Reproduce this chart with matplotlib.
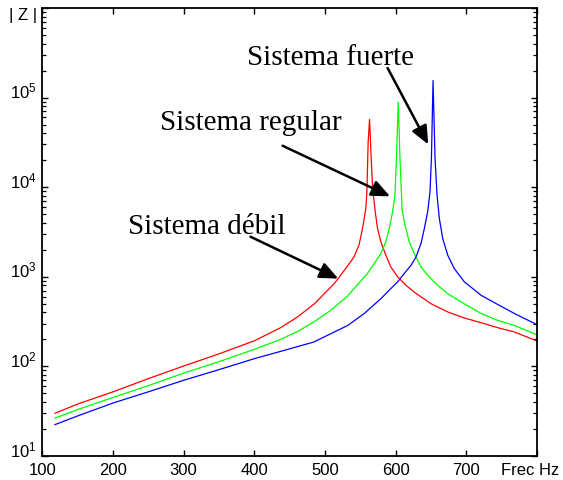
import matplotlib
matplotlib.use('Agg')
import matplotlib.pyplot as plt
from matplotlib.ticker import FixedLocator, FixedFormatter, NullFormatter
from matplotlib.transforms import ScaledTranslation

plt.rcParams['font.family'] = 'Liberation Sans'
plt.rcParams['mathtext.fontset'] = 'custom'
plt.rcParams['mathtext.rm'] = 'Liberation Sans'

# |Z| vs frequency for the three system strengths
f_debil = [118, 150, 200, 250, 300, 350, 400,
           437, 461, 485, 499, 513, 522, 532, 541, 548, 553, 557.7, 559.2, 561, 563,
           565.3, 567.2, 571, 574.3, 579, 586, 593, 602.7, 614.5, 626, 650, 673.6, 697,
           721, 744.5, 768, 800]
z_debil = [30, 38, 52, 73, 101, 138, 193,
           270, 356, 500, 649, 840, 1040, 1325, 1670, 2250, 3460, 5790, 8900, 32000, 57000,
           21000, 10000, 5320, 3460, 2450, 1740, 1290, 1000, 804, 676, 500, 405, 347,
           307, 270, 242, 192]

f_regular = [118, 150, 200, 250, 300, 350, 400,
             437, 461, 484, 508, 532, 546, 560, 569.6, 579, 586, 590.8, 595.6, 598.9, 601, 603.6,
             606, 609, 612, 619.2, 626.2, 635.7, 645.2, 659.4, 673.6, 697, 721, 744.5, 768, 800]
z_regular = [26.5, 33, 45, 61, 84, 113, 155,
             200, 245, 313, 422, 611, 818, 1087, 1405, 1820, 2450, 3460, 5320, 8130, 21000, 89000,
             21000, 5760, 4110, 2450, 1820, 1290, 1040, 804, 647, 500, 389, 326, 286, 225]

f_fuerte = [118, 150, 200, 250, 300, 350, 400,
            437, 484, 532, 555, 579, 593, 602.7, 612, 621.6, 628.7, 635.7, 640.5, 645.2, 648.5,
            650.5, 652.8,
            655.6, 658.5, 661.7, 666.5, 673.6, 683, 697, 721, 744.5, 768, 800]
z_fuerte = [22.4, 28, 39, 52, 70, 92, 122,
            147, 187, 286, 387, 570, 738, 877, 1087, 1343, 1667, 2350, 3460, 5320, 8900,
            21000, 155000,
            21000, 8100, 4480, 2670, 1740, 1230, 880, 620, 490, 389, 292]

xticks = [100, 200, 300, 400, 500, 600, 700, 800]
xlabels = ['100', '200', '300', '400', '500', '600', '700', 'Frec Hz']
yticks = [1e1, 1e2, 1e3, 1e4, 1e5, 1e6]
ylabels = [r'$\mathregular{10^{1}}$', r'$\mathregular{10^{2}}$', r'$\mathregular{10^{3}}$',
           r'$\mathregular{10^{4}}$', r'$\mathregular{10^{5}}$', '| Z |']

fig = plt.figure(figsize=(5.63, 4.81), dpi=100)
ax = fig.add_axes([0.0751, 0.0499, 0.8789, 0.9314])

ax.plot(f_debil, z_debil, color='red', lw=0.9)
ax.plot(f_regular, z_regular, color=(0, 1, 0), lw=0.9)
ax.plot(f_fuerte, z_fuerte, color='blue', lw=0.9)

ax.set_yscale('log')
ax.set_xlim(100, 800)
ax.set_ylim(1e1, 1e6)
ax.xaxis.set_major_locator(FixedLocator(xticks))
ax.xaxis.set_major_formatter(FixedFormatter(xlabels))
ax.yaxis.set_major_locator(FixedLocator(yticks))
ax.yaxis.set_major_formatter(FixedFormatter(ylabels))
minor = [m * 10.0 ** e for e in range(1, 6) for m in range(2, 10)]
ax.yaxis.set_minor_locator(FixedLocator(minor))
ax.yaxis.set_minor_formatter(NullFormatter())
ax.tick_params(which='both', direction='in', top=True, right=True, labelsize=12)
ax.tick_params(which='major', length=4.5, width=1, pad=4)
ax.yaxis.set_tick_params(which='minor', length=3, width=0.9, left=True, right=True)
for s in ax.spines.values():
    s.set_linewidth(1.3)

fig.canvas.draw()
# decade labels sit on their tick, the top one is the axis name
ylab = ax.yaxis.get_majorticklabels()
for lab in ylab[:-1]:
    lab.set_verticalalignment('baseline')
ylab[-1].set_transform(ylab[-1].get_transform() + ScaledTranslation(0, -0.05, fig.dpi_scale_trans))
xlab = ax.xaxis.get_majorticklabels()
xlab[-1].set_transform(xlab[-1].get_transform() + ScaledTranslation(-0.07, 0, fig.dpi_scale_trans))

serif = dict(family='Liberation Serif', fontsize=21)
arrow = dict(arrowstyle='-|>,head_length=0.8,head_width=0.35', color='black',
             lw=1.8, mutation_scale=14, shrinkA=0, shrinkB=0)

ax.text(390, 2.37e5, 'Sistema fuerte', **serif)
ax.annotate('', xy=(646, 3.0e4), xytext=(588.5, 2.14e5), arrowprops=arrow)

ax.text(266, 4.5e4, 'Sistema regular', **serif)
ax.annotate('', xy=(592, 7.9e3), xytext=(440, 2.9e4), arrowprops=arrow)

ax.text(220.6, 3.1e3, 'Sistema débil', **serif)
ax.annotate('', xy=(518.7, 955), xytext=(394.6, 2.8e3), arrowprops=arrow)

fig.savefig('out.png', dpi=100)
